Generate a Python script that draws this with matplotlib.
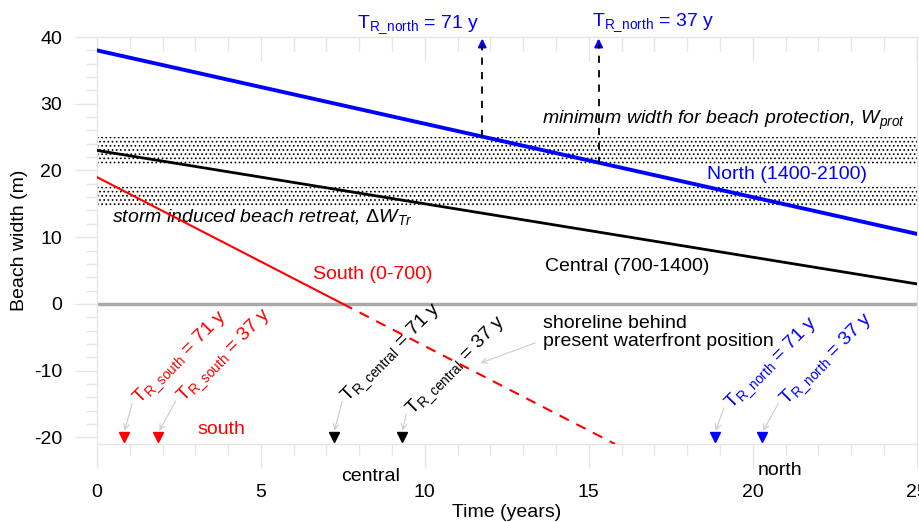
import matplotlib
matplotlib.use("Agg")
import matplotlib.pyplot as plt
from matplotlib.ticker import MultipleLocator

plt.rcParams['font.family'] = 'Liberation Sans'
plt.rcParams['mathtext.fontset'] = 'custom'
plt.rcParams['mathtext.rm'] = 'Liberation Sans'
plt.rcParams['mathtext.it'] = 'Liberation Sans:italic'
plt.rcParams['mathtext.default'] = 'regular'
plt.rcParams['axes.unicode_minus'] = False
plt.rcParams['hatch.linewidth'] = 0.7

# beach width lines (years, m)
north_t = [0, 25]
north_w = [38, 10.5]
central_t = [0, 25]
central_w = [23, 3]
south_solid_t = [0, 7.5]
south_solid_w = [19, 0]
south_dash_t = [7.5, 15.8]
south_dash_w = [0, -21]

# hatched bands
prot_band = (21, 25)
storm_band = (14.5, 17.5)

# return periods at the top (north)
top_arrow_t = [11.75, 15.3]
top_arrow_w0 = [25, 21]
top_labels = [r'$T_{R\_north}$ = 71 y', r'$T_{R\_north}$ = 37 y']

# markers at the bottom
south_marks = [0.82, 1.86]
central_marks = [7.22, 9.3]
north_marks = [18.84, 20.27]
mark_level = -20

fig = plt.figure(figsize=(9.19, 5.22), dpi=100)
ax = fig.add_axes([0.1055, 0.1494, 0.892, 0.7797])

for b in (prot_band, storm_band):
    ax.fill_between([0, 25], b[0], b[1], facecolor='none', edgecolor='k',
                    hatch='....', linewidth=0, zorder=1)

ax.axhline(0, color='#aaaaaa', lw=2.5, zorder=2)
ax.plot(north_t, north_w, color='#0000ff', lw=2.8, zorder=4)
ax.plot(central_t, central_w, color='k', lw=2, zorder=4)
ax.plot(south_solid_t, south_solid_w, color='#ff0000', lw=1.5, zorder=4)
ax.plot(south_dash_t, south_dash_w, color='#ff0000', lw=1.5, ls=(0, (5, 4)), zorder=4)

# dashed arrows to the top
for t, w0 in zip(top_arrow_t, top_arrow_w0):
    ax.plot([t, t], [w0, 39], color='k', lw=1.3, ls=(0, (4, 4)), zorder=5)
    ax.annotate('', xy=(t, 40.2), xytext=(t, 38.6),
                arrowprops=dict(arrowstyle='-|>', color='#0000ff', lw=1.5,
                                mutation_scale=12), annotation_clip=False)
ax.text(top_arrow_t[0] - 0.1, 41.3, top_labels[0], color='#0000ff', fontsize=14,
        ha='right', va='baseline', clip_on=False)
ax.text(top_arrow_t[1] - 0.2, 41.6, top_labels[1], color='#0000ff', fontsize=14,
        ha='left', va='baseline', clip_on=False)

# bottom markers and rotated labels
groups = [
    (south_marks, '#ff0000', 'south', [(1.3, -15.1), (2.65, -14.8)],
     [(1.10, -14.5), (2.44, -14.2)]),
    (central_marks, 'k', 'central', [(7.65, -14.8), (9.62, -16.7)],
     [(7.5, -14.2), (9.45, -16.1)]),
    (north_marks, '#0000ff', 'north', [(19.35, -15.8), (21.03, -15.2)],
     [(19.15, -15.2), (20.82, -14.6)]),
]
for marks, col, sub, txt_pos, arr_start in groups:
    ax.plot(marks, [mark_level] * len(marks), 'v', color=col, ms=7, zorder=6,
            clip_on=False)
    for m, yrs, tp, st in zip(marks, ['71', '37'], txt_pos, arr_start):
        ax.text(tp[0], tp[1], r'$T_{R\_%s}$ = %s y' % (sub, yrs), color=col,
                fontsize=14, rotation=45, rotation_mode='anchor',
                ha='left', va='baseline')
        ax.annotate('', xy=(m, mark_level + 0.6), xytext=st,
                    arrowprops=dict(arrowstyle='->', color='#cccccc', lw=0.8))

# labels in plot
ax.text(24.63, 26.9, r'minimum width for beach protection, $\mathit{W}_{\mathit{prot}}$',
        fontsize=14, style='italic', ha='right', va='baseline')
ax.text(0.46, 12.2, r'storm induced beach retreat, $\mathrm{\Delta}\mathit{W}_{\mathit{Tr}}$',
        fontsize=14, style='italic', ha='left', va='baseline')
ax.text(18.6, 18.66, 'North (1400-2100)', color='#0000ff', fontsize=14, va='baseline')
ax.text(13.66, 4.93, 'Central (700-1400)', color='k', fontsize=14, va='baseline')
ax.text(6.59, 3.73, 'South (0-700)', color='#ff0000', fontsize=14, va='baseline')
ax.text(13.6, -1.6, 'shoreline behind\npresent waterfront position', fontsize=14,
        va='top', linespacing=1.1)
ax.annotate('', xy=(11.62, -9.0), xytext=(13.45, -5.7),
            arrowprops=dict(arrowstyle='->', color='#cccccc', lw=0.8))
ax.text(3.05, -19.5, 'south', color='#ff0000', fontsize=14, va='baseline')
ax.text(7.44, -26.6, 'central', color='k', fontsize=14, va='baseline')
ax.text(20.15, -25.7, 'north', color='k', fontsize=14, va='baseline')

# axes styling
ax.set_xlim(0, 25)
ax.set_ylim(-21, 40)
ax.xaxis.set_major_locator(MultipleLocator(5))
ax.xaxis.set_minor_locator(MultipleLocator(1))
ax.yaxis.set_major_locator(MultipleLocator(10))
ax.yaxis.set_minor_locator(MultipleLocator(2))
for s in ax.spines.values():
    s.set_color('#e6e6e6')
    s.set_linewidth(1)
tick_col = '#e6e6e6'
ax.tick_params(axis='x', which='major', direction='out', length=17, width=1,
               color=tick_col, labelsize=14, pad=12)
ax.tick_params(axis='x', which='minor', direction='out', length=8, width=1,
               color=tick_col)
ax.tick_params(axis='y', which='major', direction='out', length=16, width=1,
               color=tick_col, labelsize=14, pad=9)
ax.tick_params(axis='y', which='minor', direction='out', length=8, width=1,
               color=tick_col)

top = ax.secondary_xaxis('top')
top.xaxis.set_major_locator(MultipleLocator(5))
top.xaxis.set_minor_locator(MultipleLocator(1))
top.spines['top'].set_color(tick_col)
top.tick_params(which='major', direction='in', length=17, width=1,
                color=tick_col, labeltop=False)
top.tick_params(which='minor', direction='in', length=10, width=1,
                color=tick_col)

ax.set_xlabel('Time (years)', fontsize=14, labelpad=2)
ax.set_ylabel('Beach width (m)', fontsize=14, labelpad=4)

fig.savefig('out.png', dpi=100)
